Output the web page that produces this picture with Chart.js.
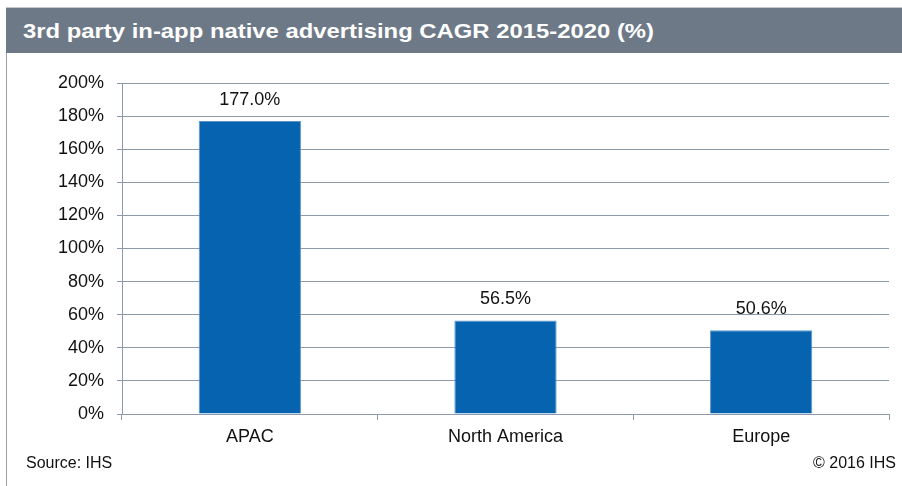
<!DOCTYPE html>
<html>
<head>
<meta charset="utf-8">
<script src="https://cdn.jsdelivr.net/npm/chart.js@4"></script>
<style>
    html, body { margin: 0; padding: 0; background: #fff; }
    body { width: 902px; height: 486px; position: relative; overflow: hidden; font-family: "Liberation Sans", Arial, sans-serif; }
    #topLine { position: absolute; left: 6px; top: 7px; width: 896px; height: 1px; background: #c4c8cc; }
    #titleBar { position: absolute; left: 6px; top: 8px; width: 896px; height: 45px; background: #6e7987; }
    #titleText { position: absolute; left: 23px; top: 8px; height: 45px; line-height: 45px; color: #fff; font-weight: bold; font-size: 21px; white-space: nowrap; transform-origin: left center; }
    #leftBorder { position: absolute; left: 6px; top: 53px; width: 1px; height: 433px; background: #9aa0a6; }
    #chartCanvas { position: absolute; left: 0; top: 0; }
    .note { position: absolute; top: 453px; font-size: 16px; line-height: 20px; color: #111; }
</style>
</head>
<body>
<div id="topLine"></div>
<div id="titleBar"></div>
<div id="titleText">3rd party in-app native advertising CAGR 2015-2020 (%)</div>
<div id="leftBorder"></div>
<canvas id="chartCanvas" width="902" height="486"></canvas>
<div class="note" style="left:26px;">Source: IHS</div>
<div class="note" style="right:6px;">© 2016 IHS</div>

<script>
/* ---------- Data ---------- */
const regions = ["APAC", "North America", "Europe"];
const cagrValues = [177.0, 56.5, 50.6];
const yTicks = [0, 20, 40, 60, 80, 100, 120, 140, 160, 180, 200];

/* ---------- Fit title width ---------- */
(function () {
    const t = document.getElementById("titleText");
    const target = 631;
    const w = t.getBoundingClientRect().width;
    if (w > 0) t.style.transform = "scaleX(" + (target / w) + ")";
})();

/* ---------- Value labels above bars ---------- */
const valueLabels = {
    id: "valueLabels",
    afterDatasetsDraw: function (chart) {
        const ctx = chart.ctx;
        const meta = chart.getDatasetMeta(0);
        ctx.save();
        ctx.font = '18px "Liberation Sans", Arial, sans-serif';
        ctx.fillStyle = "#111";
        ctx.textAlign = "center";
        ctx.textBaseline = "middle";
        meta.data.forEach(function (bar, i) {
            ctx.fillText(cagrValues[i].toFixed(1) + "%", bar.x, bar.y - 21);
        });
        ctx.restore();
    }
};

const gridColor = "#8c9aab";

new Chart(document.getElementById("chartCanvas").getContext("2d"), {
    type: "bar",
    data: {
        labels: regions,
        datasets: [{
            data: cagrValues,
            backgroundColor: "#0563b0",
            borderColor: "#5b95cc",
            borderWidth: { top: 1, left: 1, right: 1, bottom: 0 },
            categoryPercentage: 1,
            barPercentage: 0.4
        }]
    },
    options: {
        responsive: false,
        animation: false,
        layout: { padding: { left: 0, right: 13, top: 83, bottom: 32 } },
        plugins: { legend: { display: false }, tooltip: { enabled: false } },
        scales: {
            x: {
                afterFit: function (s) { s.height = 40; },
                grid: { offset: true, drawOnChartArea: false, drawTicks: true, tickLength: 6, color: gridColor },
                border: { color: gridColor },
                ticks: { padding: 6, color: "#111", font: { family: '"Liberation Sans", Arial, sans-serif', size: 18 } }
            },
            y: {
                min: 0,
                max: 200,
                afterFit: function (s) { s.width = 122; },
                afterBuildTicks: function (s) { s.ticks = yTicks.map(function (v) { return { value: v }; }); },
                grid: { color: gridColor, tickLength: 5 },
                border: { color: gridColor },
                ticks: {
                    padding: 13,
                    color: "#111",
                    font: { family: '"Liberation Sans", Arial, sans-serif', size: 18 },
                    callback: function (v) { return v + "%"; }
                }
            }
        }
    },
    plugins: [valueLabels]
});
</script>
</body>
</html>
